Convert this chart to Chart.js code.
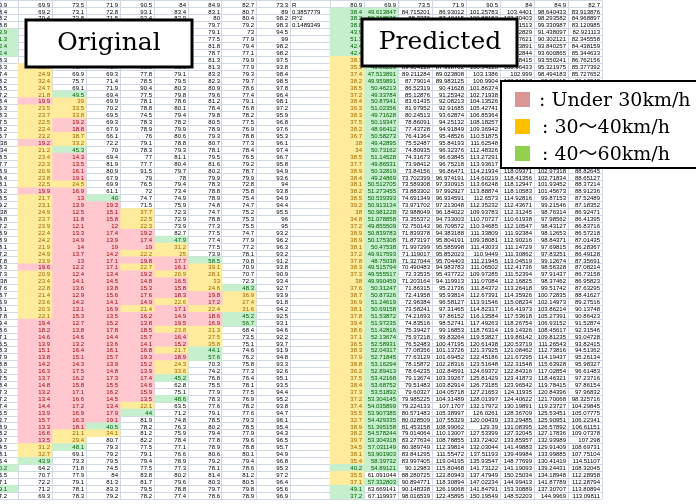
<!DOCTYPE html>
<html>
<head>
<meta charset="utf-8">
<script src="https://cdn.jsdelivr.net/npm/chart.js@4.4.1/dist/chart.umd.min.js"></script>
<style>
  html, body { margin: 0; padding: 0; background: #ffffff; }
  #sheet { display: block; }
</style>
</head>
<body>
<canvas id="sheet" width="696" height="504"></canvas>
<script>
// Shared first column (speed reference) - shown in both sheets
const baseSpeed = [
  80.9, 38.4, 38.2, 38.8, 43.9, 51.3, 42.4, 42.4, 38.3, 35.3, 37.4, 38.2,
  38.5, 37.2, 38.4, 36.3, 38.3, 37.5, 38.2, 36.7, 38, 34, 38.5, 37.7, 38.9,
  38.4, 38.1, 38.2, 38.5, 39.2, 38, 34.8, 37.2, 38.9, 38.9, 38.1, 37.2, 37.8, 38.3, 37.3, 38,
  37.6, 38.7, 36.9, 38.1, 37.8, 39.4, 38.6, 37.1, 36.5, 38.3, 37.9, 38.8, 36.2, 37.5, 38.4, 37.3,
  37.2, 37.4, 35.5, 32.7, 38.9, 38.2, 39.7, 34.5, 38.1, 35.4, 40.2, 35.5, 37.1, 49.1, 37.2
];
// Band of the reference column in the predicted sheet (W none, G 40-60, Y 30-40)
const baseBand = ('W' + 'GGGGGGG' + 'Y'.repeat(59) + 'G' + 'YY' + 'GG').split('');

// Original sheet, columns 1-8
const orig1 = [
  69.9, 69.2, 70.4, 71.2, 69.8, 70.6, 71.5, 70.3, 69.7, 25.7, 24.9, 32.4,
  24.7, 21.8, 19.9, 23.5, 23.7, 22.5, 22.4, 23.2, 19.2, 21.2, 23.4, 22.3, 20.9,
  23.8, 22.5, 19.9, 21.7, 23.1, 24.9, 23.7, 23.9, 22.4, 24.2, 21.9, 24.9, 23.9, 19.6, 20.9, 23.4,
  22.8, 21.4, 23.6, 20.3, 22.1, 19.4, 18.2, 14.6, 13.9, 15.1, 13.8, 14.2, 16.3, 13.7, 14.8, 13.2,
  13.4, 14.4, 13.9, 15.7, 13.3, 16.6, 13.5, 31.2, 32.7, 43.9, 64.2, 70.7, 72.2, 71.2, 69.3
];
const orig2 = [
  73.5, 73.1, 72.8, 74.0, 73.6, 72.9, 74.3, 73.8, 72.5, 70.7, 69.9, 75.7,
  69.1, 49.5, 39, 33.5, 33.8, 19.2, 18.8, 38.7, 33.2, 45.3, 14.3, 13.5, 16.1,
  19.1, 24.5, 16.9, 13, 13.9, 12.5, 11.8, 12.1, 13.3, 14.9, 14, 13.7, 13, 12.2, 12.4, 14.1,
  13.6, 12.9, 14.2, 13.1, 15.3, 12.7, 13.8, 14.6, 13.2, 16.4, 15.1, 14.3, 17.5, 16.2, 15.8, 17.1,
  16.6, 17.2, 16.9, 16.3, 18.1, 21.1, 29.4, 48.1, 69.1, 73.3, 71.8, 77.9, 79.1, 78.1, 78.3
];
const orig3 = [
  71.9, 72.8, 71.5, 72.1, 70.9, 71.3, 72.4, 71.8, 70.6, 71.7, 69.3, 71.4,
  71.9, 69.4, 69.9, 70.2, 69.5, 69.3, 67.9, 66.1, 72.2, 70, 69.4, 81.9, 80.9,
  67.9, 69.9, 61.1, 40, 19.3, 15.1, 15.8, 12, 17.4, 13.9, 19, 14.2, 17.1, 17.1, 13.4, 14.5,
  13.8, 15.6, 14.1, 16.9, 13.5, 15.2, 17.8, 14.4, 13.6, 16.1, 15.7, 13.9, 14.8, 17.3, 15.5, 16.2,
  14.5, 13.4, 17.9, 19.1, 40.5, 34.1, 80.7, 79.3, 79.2, 79.5, 74.5, 84, 81.3, 83.3, 79.2
];
const orig4 = [
  90.5, 93.1, 92.4, 91.8, 90.7, 92.6, 91.3, 90.2, 91.9, 90.8, 77.8, 78.5,
  90.4, 77.5, 78.1, 78.8, 74.5, 78.3, 78.9, 76, 79.1, 78.3, 77, 77.7, 91.5,
  79, 76.5, 72, 74.7, 71.5, 37.7, 22.5, 22.3, 19.2, 17.4, 19, 22.2, 19.8, 22.7, 19.2, 14.8,
  15.3, 17.6, 14.9, 21.4, 16.2, 13.8, 18.5, 15.7, 14.1, 16.8, 19.3, 15.2, 13.9, 17.4, 14.6, 15.9,
  13.5, 22.1, 44, 81.9, 78.2, 81.2, 82.2, 77.5, 79.1, 79.4, 77.5, 83.8, 81.7, 79.5, 78.2
];
const orig5 = [
  84, 83.4, 82.9, 83.6, 82.1, 81.7, 83.2, 82.5, 81.4, 81.9, 79.1, 79.5,
  80.3, 79.8, 78.6, 80.1, 79.4, 78.2, 79.9, 80.6, 78.8, 79.3, 81.1, 80.4, 79.7,
  78, 79.4, 73.4, 74.9, 75.9, 72.3, 72.9, 73.9, 82.7, 47.9, 31.2, 25, 17.7, 16.1, 20.9, 16.5,
  15.8, 18.3, 22.6, 17.1, 14.9, 19.5, 23.8, 16.4, 15.2, 21.7, 18.9, 24.3, 33.6, 45.2, 62.8, 75.1,
  48.6, 63.5, 71.2, 74.8, 76.3, 75.9, 78.4, 77.1, 76.6, 78.9, 77.3, 80.2, 79.6, 78.8, 77.4
];
const orig6 = [
  84.9, 83.1, 80, 79.7, 79.1, 77.5, 81.8, 78.7, 81.3, 81.3, 83.3, 82.3,
  80.9, 79.6, 81.2, 78.4, 79.8, 80.5, 78.9, 79.3, 80.7, 78.1, 79.5, 81.6, 80.2,
  79.9, 78.3, 78.8, 78.9, 74.8, 74.7, 78.8, 77.3, 77.5, 77.4, 77.5, 73.9, 58.5, 39.1, 28.1, 33,
  24.6, 19.8, 17.2, 22.4, 18.6, 16.9, 21.3, 27.5, 35.8, 44.1, 57.6, 70.3, 74.2, 76.8, 75.5, 77.9,
  78.3, 77.6, 79.1, 78.5, 80.2, 79.4, 77.8, 78.9, 80.6, 79.2, 78.1, 81.4, 80.3, 79.7, 78.6
];
const orig7 = [
  82.7, 80.7, 80.4, 79.2, 73, 77.9, 79.4, 77.1, 79.9, 77.9, 79.3, 79.7,
  78.6, 77.4, 79.1, 76.8, 78.2, 77.5, 76.9, 78.8, 77.3, 78.4, 76.5, 79.2, 78.7,
  79.9, 72.8, 75.8, 75.4, 74.7, 75.2, 75.3, 75.5, 74.7, 77.9, 77.2, 78.1, 70.8, 70.9, 70.7, 72.3,
  48.3, 36.9, 27.4, 31.6, 45.2, 56.7, 68.4, 73.5, 75.1, 74.6, 76.2, 75.8, 77.3, 76.4, 78.1, 77.5,
  76.9, 78.2, 77.6, 79.3, 78.5, 77.9, 79.6, 78.8, 80.1, 79.4, 78.6, 81.2, 80.5, 79.8, 78.9
];
const orig8 = [
  73.3, 89, 98.2, 98.3, 94.5, 99, 98.2, 98.2, 97.5, 93.8, 98.4, 98.5,
  97.8, 96.4, 98.1, 97.2, 95.9, 96.8, 97.6, 95.3, 96.1, 97.4, 96.7, 95.8, 94.9,
  93.6, 94, 93.8, 94.9, 94.4, 95.5, 96, 95, 93.2, 96.2, 96.3, 93.2, 91.2, 93.8, 90.9, 93.4,
  92.7, 93.9, 91.8, 94.2, 92.5, 93.1, 94.6, 92.2, 93.7, 91.9, 94.8, 93.3, 92.6, 95.1, 93.5, 94.4,
  95.2, 93.8, 94.7, 96.1, 95.4, 94.3, 96.5, 95.7, 94.9, 96.8, 95.3, 97.2, 96.4, 95.6, 96.9
];
// Fit statistics written beside the original sheet
const statNotes = ['R', '0.3857779', 'R^2', '0.1489349'];

// Predicted sheet, columns 1-7
const pred1 = [
  69.9, 49.613847, 50.218536, 51.37462, 48.955103, 50.741289, 49.386517, 50.129874, 51.24144, 49.80209, 47.513891, 49.959891,
  50.46213, 49.33784, 50.87941, 51.02356, 49.71628, 50.19347, 48.96412, 50.58273, 49.42895, 50.73162, 51.14528, 49.86531, 50.32819,
  49.24869, 50.512705, 51.273455, 50.539393, 50.913134, 50.981228, 51.078858, 49.855509, 50.839783, 50.175308, 50.47538, 49.917593, 48.75038, 49.515794, 49.555517, 49.990459,
  50.31247, 50.87326, 51.24619, 50.69158, 51.53872, 51.97235, 51.42816, 52.13674, 52.58931, 52.04317, 52.71845, 53.16294, 52.89413, 53.42168, 53.68752, 53.51892,
  53.304145, 54.035899, 53.907385, 54.429335, 51.395158, 54.578244, 53.304318, 57.031149, 53.901903, 58.39732, 54.89121, 61.091044, 57.332803, 63.669141, 67.119937
];
const pred2 = [
  73.5, 84.715201, 85.3276, 86.10287, 84.26918, 83.95037, 85.61724, 86.38815, 87.05523, 89.904128, 89.211284, 87.79014,
  86.52319, 85.12876, 83.61435, 81.97952, 80.24513, 78.86091, 77.43728, 76.41364, 75.52487, 74.80935, 74.31673, 73.98412, 73.84156,
  73.702399, 73.589308, 73.883302, 74.691349, 73.971702, 72.988049, 73.355372, 72.750143, 71.839378, 71.873197, 71.997299, 71.119017, 71.327044, 70.490483, 72.33535, 71.203164,
  71.86315, 72.41958, 72.96384, 73.58241, 74.21693, 74.83516, 75.39427, 75.97218, 76.52483, 77.08356, 77.63129, 78.15872, 78.64235, 79.13674, 79.51483, 79.60327,
  79.985225, 79.224133, 80.571483, 80.028509, 81.453158, 79.014064, 83.277634, 80.389749, 83.841295, 83.997405, 90.12983, 88.280725, 90.894771, 90.148338, 98.016539
];
const pred3 = [
  71.9, 86.93012, 87.40415, 88.15439, 85.73261, 86.31852, 87.1193, 88.60647, 89.27318, 87.938702, 89.023808, 89.983125,
  90.41628, 91.25342, 92.08213, 92.91685, 93.62874, 94.25132, 94.91849, 95.48526, 95.84193, 96.32376, 96.63845, 96.75218, 96.86471,
  96.974191, 97.330915, 97.992927, 96.934591, 97.213048, 96.184022, 94.733003, 96.709572, 94.383188, 95.804191, 95.585998, 95.852023, 95.704403, 94.983783, 95.437722, 94.119913,
  95.21736, 95.93814, 96.58127, 97.31465, 97.86152, 98.52741, 99.16853, 99.83264, 100.47195, 101.13726, 101.69452, 102.28316, 102.84591, 103.39267, 103.82914, 104.05718,
  104.31489, 107.1707, 105.38997, 107.55329, 108.99062, 110.13007, 108.78855, 112.39814, 111.55472, 119.04195, 115.80468, 122.80943, 118.30894, 126.19068, 122.45895
];
const pred4 = [
  90.5, 101.25783, 100.88152, 101.62077, 99.86344, 98.70419, 99.42158, 100.51296, 101.0473, 100.34128, 103.1386, 100.9904,
  101.86374, 102.71938, 104.13526, 105.42741, 106.85364, 108.18257, 109.36942, 110.51875, 111.62548, 112.48326, 113.27291, 113.93617, 114.21934,
  114.60219, 113.66248, 113.88874, 112.6573, 112.35232, 109.93783, 110.70727, 110.34685, 111.33809, 109.38081, 111.43033, 110.9449, 111.21945, 111.06502, 109.97285, 111.07084,
  111.84372, 112.67391, 113.91546, 114.82317, 116.13584, 117.49263, 118.76314, 119.53827, 120.61438, 121.37925, 122.45186, 123.51648, 124.69372, 125.81429, 126.73185, 127.21653,
  128.01397, 132.17972, 126.0261, 120.00439, 129.39, 127.53399, 133.72402, 132.03044, 137.51193, 135.93547, 141.73122, 137.47949, 147.02234, 141.84791, 150.19549
];
const pred5 = [
  84, 103.4401, 102.70403, 103.31513, 101.92829, 100.57621, 101.13891, 102.02844, 101.88415, 100.96433, 102.999, 102.31517,
  103.21579, 104.63127, 106.27193, 107.95826, 109.37239, 111.03418, 112.46235, 113.75671, 114.91432, 115.94217, 116.85836, 117.63254, 118.09371,
  118.41356, 118.12947, 118.10583, 114.92816, 112.43671, 112.31245, 110.61938, 112.10547, 111.92384, 112.90216, 111.14729, 111.30862, 113.04519, 112.41736, 111.52394, 112.16825,
  113.26418, 114.35926, 115.08234, 116.41973, 117.53618, 118.26754, 119.14326, 119.86142, 120.53719, 121.08462, 121.67295, 122.31548, 122.84316, 123.41873, 123.96542, 124.11935,
  124.40622, 130.19891, 128.36709, 133.29485, 131.08395, 127.32045, 133.85957, 141.49883, 139.49984, 148.77699, 141.19093, 150.25034, 144.99413, 153.30889, 148.52203
];
const pred6 = [
  84.9, 98.640433, 98.293582, 99.330987, 91.438097, 90.302121, 93.840257, 93.600865, 93.550241, 95.321975, 98.494183, 97.86215,
  98.73214, 99.41962, 100.28735, 100.96158, 101.63875, 101.94592, 102.38316, 102.87248, 102.66931, 103.02185, 102.88724, 102.65493, 102.97318,
  102.71834, 101.93452, 101.45673, 99.87153, 99.21546, 98.76314, 97.98562, 98.43127, 98.12653, 98.84371, 97.69815, 97.83251, 99.12674, 98.56328, 97.91437, 98.37462,
  99.51742, 100.72835, 102.14973, 103.86214, 105.27391, 106.93152, 108.45617, 109.81235, 111.26543, 112.73816, 114.19437, 115.63928, 117.02854, 118.46321, 119.78415, 120.84396,
  121.70068, 119.23727, 125.53451, 125.90951, 126.57892, 127.17836, 132.93989, 129.91409, 133.99885, 130.41419, 139.24431, 134.18948, 141.87789, 137.30707, 144.9969
];
const pred7 = [
  82.7, 83.913876, 84.968897, 83.120985, 82.921113, 82.345558, 84.438159, 85.344633, 86.762156, 85.377392, 85.727652, 86.10548,
  86.53157, 87.05418, 86.71294, 87.44631, 87.97456, 87.61928, 88.43174, 88.15219, 88.72763, 88.46531, 88.94812, 88.71576, 88.82645,
  88.65127, 88.37214, 88.91236, 87.52489, 87.18352, 86.92471, 86.41395, 86.83716, 86.57218, 87.01435, 86.28367, 86.49128, 87.35691, 87.08214, 86.73158, 86.95823,
  87.63295, 88.41627, 89.27516, 90.13748, 90.86423, 91.52874, 92.31546, 93.04728, 93.82415, 94.51362, 95.26134, 95.98327, 96.61483, 97.23716, 97.86154, 97.96832,
  98.325716, 104.29845, 105.07775, 106.22341, 106.61151, 109.07378, 107.298, 108.69731, 107.75104, 114.51107, 108.32045, 112.28958, 112.28794, 113.80894, 113.09811
];

const legendLabels = [': Under 30km/h', ': 30\uFF5E40km/h', ': 40\uFF5E60km/h'];
const legendSwatches = ['#D99694', '#FFC000', '#92D050'];

// ---- layout of the two sheets (pixel columns on a 0..602 linear axis) ----
const leftEdges = [0, 18, 52, 86, 120, 154, 188, 222, 256, 290, 330];
const rightEdges = [330, 364, 398, 432, 466, 500, 534, 568, 602];
const rowIds = baseSpeed.map((_, i) => 'row' + i);

const FILL = { P: '#FFC7CE', Y: '#FFEB9C', G: '#C6EFCE', W: 'rgba(255,255,255,0)' };
const INK  = { P: '#9C0006', Y: '#9C6500', G: '#006100', W: '#000000' };

function speedBand(v) {
  if (v === null || v === undefined) return 'W';
  if (v < 20) return 'P';
  if (v < 40) return 'Y';
  if (v < 60) return 'G';
  return 'W';
}

function columnDataset(values, x0, x1, bandOf, opts) {
  const bands = values.map(bandOf);
  return Object.assign({
    data: values.map(() => [x0, x1]),
    backgroundColor: bands.map(b => FILL[b]),
    textColors: bands.map(b => INK[b]),
    cellLabels: values.map(v => (v === null || v === undefined) ? '' : String(v)),
    inset: 2,
    alignLeft: false,
    grouped: false,
    barPercentage: 1,
    categoryPercentage: 1,
    borderWidth: 0
  }, opts || {});
}

const datasets = [];
// Original sheet (its first column is scrolled partly out of view)
datasets.push(columnDataset(baseSpeed, leftEdges[0], leftEdges[1],
  v => speedBand(v) === 'G' ? 'G' : 'W', { inset: 11 }));
[orig1, orig2, orig3, orig4, orig5, orig6, orig7, orig8].forEach((col, k) => {
  datasets.push(columnDataset(col, leftEdges[k + 1], leftEdges[k + 2], speedBand));
});
const notesColumn = rowIds.map((_, i) => i < statNotes.length ? statNotes[i] : null);
datasets.push(columnDataset(notesColumn, leftEdges[9], leftEdges[10], () => 'W', { alignLeft: true }));
// Predicted sheet
datasets.push(columnDataset(baseSpeed, rightEdges[0], rightEdges[1], (v, i) => baseBand[i]));
[pred1, pred2, pred3, pred4, pred5, pred6, pred7].forEach((col, k) => {
  datasets.push(columnDataset(col, rightEdges[k + 1], rightEdges[k + 2], speedBand));
});

const gridEdges = Array.from(new Set(leftEdges.concat(rightEdges))).sort((a, b) => a - b);

// Numbers inside each cell, placed from the bar elements
const cellText = {
  id: 'cellText',
  afterDatasetsDraw(chart) {
    const ctx = chart.ctx;
    ctx.save();
    ctx.font = '6px "Liberation Sans", Arial, sans-serif';
    ctx.textBaseline = 'middle';
    chart.data.datasets.forEach((ds, di) => {
      const meta = chart.getDatasetMeta(di);
      meta.data.forEach((bar, i) => {
        const txt = ds.cellLabels[i];
        if (!txt) return;
        const left = Math.min(bar.x, bar.base);
        const right = Math.max(bar.x, bar.base);
        ctx.fillStyle = ds.textColors[i];
        if (ds.alignLeft) {
          ctx.textAlign = 'left';
          ctx.fillText(txt, left + 2, bar.y + 0.5);
        } else {
          ctx.textAlign = 'right';
          ctx.fillText(txt, right - ds.inset, bar.y + 0.5);
        }
      });
    });
    ctx.restore();
  }
};

// Caption boxes and the speed legend
const callouts = {
  id: 'callouts',
  afterDraw(chart) {
    const ctx = chart.ctx;
    ctx.save();
    function box(x, y, w, h, lw) {
      ctx.fillStyle = '#ffffff';
      ctx.fillRect(x, y, w, h);
      ctx.lineWidth = lw;
      ctx.strokeStyle = '#000000';
      ctx.strokeRect(x, y, w, h);
    }
    ctx.textBaseline = 'alphabetic';
    ctx.textAlign = 'center';
    ctx.font = '25px "DejaVu Serif", "Liberation Serif", serif';

    box(26, 20, 166, 47, 3);
    ctx.fillStyle = '#000000';
    ctx.fillText('Original', 109, 50);

    box(362, 19, 155, 47, 3);
    ctx.fillStyle = '#000000';
    ctx.fillText('Predicted', 440, 49);

    box(501, 81, 200, 87, 2);
    ctx.textAlign = 'left';
    ctx.font = '19px "DejaVu Serif", "Noto Sans CJK JP", serif';
    legendLabels.forEach((label, k) => {
      ctx.fillStyle = legendSwatches[k];
      ctx.fillRect(515, 92 + 27 * k, 15, 15);
      ctx.fillStyle = '#000000';
      ctx.fillText(label, k === 0 ? 539 : 542, 106 + 27 * k);
    });
    ctx.restore();
  }
};

new Chart(document.getElementById('sheet'), {
  type: 'bar',
  data: { labels: rowIds, datasets },
  options: {
    indexAxis: 'y',
    responsive: false,
    animation: false,
    devicePixelRatio: 1,
    layout: { padding: { left: 0, right: 94, top: 1, bottom: 5 } },
    plugins: { legend: { display: false }, tooltip: { enabled: false } },
    scales: {
      x: {
        type: 'linear',
        min: 0,
        max: 602,
        afterBuildTicks(scale) { scale.ticks = gridEdges.map(v => ({ value: v })); },
        afterFit(scale) { scale.height = 0; },
        ticks: { display: false },
        grid: { color: '#D0D7E5', drawTicks: false, lineWidth: 1 },
        border: { display: false }
      },
      y: {
        type: 'category',
        afterFit(scale) { scale.width = 0; },
        ticks: { display: false },
        grid: { color: '#D0D7E5', drawTicks: false, offset: true, lineWidth: 1 },
        border: { display: false }
      }
    }
  },
  plugins: [cellText, callouts]
});
</script>
</body>
</html>
